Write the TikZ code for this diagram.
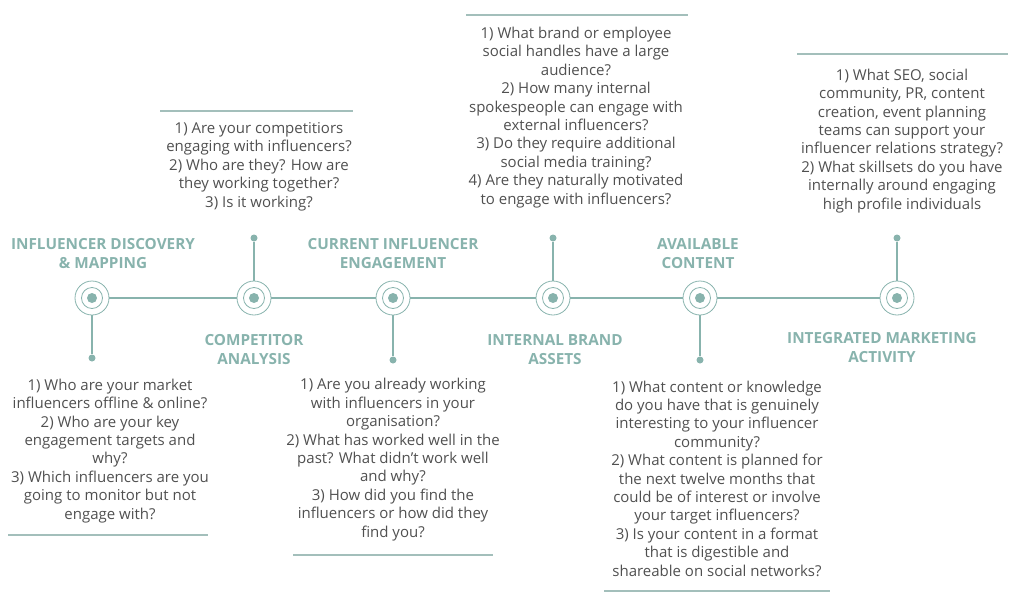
\documentclass[tikz,border=0pt]{standalone}
\usepackage{fontspec}
\setmainfont{Open Sans}
\definecolor{teal1}{HTML}{88B3AD}
\definecolor{rulec}{HTML}{A3BFBB}
\definecolor{txt}{HTML}{505050}
\begin{document}
\begin{tikzpicture}[x=1pt,y=-1pt,
  q/.style={font=\fontsize{15}{18.4}\selectfont, text=txt, align=center, inner sep=0pt, anchor=base},
  ttl/.style={font=\bfseries\fontsize{15.3}{19}\selectfont, text=teal1, align=center, inner sep=0pt, anchor=base},
  ring/.style={circle, draw=teal1, line width=0.8pt, minimum size=34pt, inner sep=0pt},
  innerring/.style={circle, draw=teal1, line width=0.8pt, minimum size=21pt, inner sep=0pt},
  core/.style={circle, fill=teal1, minimum size=10pt, inner sep=0pt},
  enddot/.style={circle, fill=teal1, minimum size=7pt, inner sep=0pt},
  link/.style={draw=teal1, line width=1.3pt},
  hr/.style={draw=rulec, line width=1.2pt}]
\useasboundingbox (0,0) rectangle (1024,605);
% timeline circles
\foreach \i/\x in {1/92,2/254,3/393,4/553,5/700,6/897}{
  \node[ring] (c\i) at (\x,298) {};
  \node[innerring] (r\i) at (\x,298) {};
  \node[core] (k\i) at (\x,298) {};
}
\foreach \a/\b in {1/2,2/3,3/4,4/5,5/6}{
  \draw[link] (c\a.east) -- (c\b.west);
}
% stems and end dots
\node[enddot] (d1) at (92,358) {};
\node[enddot] (d2) at (254,238) {};
\node[enddot] (d3) at (393,360) {};
\node[enddot] (d4) at (553,238) {};
\node[enddot] (d5) at (700,360) {};
\node[enddot] (d6) at (897,238) {};
\foreach \i in {1,...,6}{\draw[link] (c\i) -- (d\i);}
% titles (anchor = baseline of last line)
\node[ttl] (t1) at (103,268) {INFLUENCER DISCOVERY\\\& MAPPING};
\node[ttl] (t2) at (254,364) {COMPETITOR\\ANALYSIS};
\node[ttl] (t3) at (393,268) {CURRENT INFLUENCER\\ENGAGEMENT};
\node[ttl] (t4) at (555,364) {INTERNAL BRAND\\ASSETS};
\node[ttl] (t5) at (698,268) {AVAILABLE\\CONTENT};
\node[ttl] (t6) at (882,362) {INTEGRATED MARKETING\\ACTIVITY};
% question blocks (anchor = baseline of last line)
\node[q] (q1) at (110,519) {1) Who are your market\\influencers offline \& online?\\2) Who are your key\\engagement targets and\\why?\\3) Which influencers are you\\going to monitor but not\\engage with?};
\node[q] (q2) at (259,207) {1) Are your competitiors\\engaging with influencers?\\2) Who are they? How are\\they working together?\\3) Is it working?};
\node[q] (q3) at (393,537) {1) Are you already working\\with influencers in your\\organisation?\\2) What has worked well in the\\past? What didn't work well\\and why?\\3) How did you find the\\influencers or how did they\\find you?};
\node[q] (q4) at (576,204) {1) What brand or employee\\social handles have a large\\audience?\\2) How many internal\\spokespeople can engage with\\external influencers?\\3) Do they require additional\\social media training?\\4) Are they naturally motivated\\to engage with influencers?};
\node[q] (q5) at (717,576) {1) What content or knowledge\\do you have that is genuinely\\interesting to your influencer\\community?\\2) What content is planned for\\the next twelve months that\\could be of interest or involve\\your target influencers?\\3) Is your content in a format\\that is digestible and\\shareable on social networks?};
\node[q] (q6) at (902,209) {1) What SEO, social\\community, PR, content\\creation, event planning\\teams can support your\\influencer relations strategy?\\2) What skillsets do you have\\internally around engaging\\high profile individuals};
% rules
\coordinate (h1a) at (8,535); \coordinate (h1b) at (208,535);
\coordinate (h2a) at (160,111); \coordinate (h2b) at (353,111);
\coordinate (h3a) at (293,555); \coordinate (h3b) at (493,555);
\coordinate (h4a) at (466,15); \coordinate (h4b) at (688,15);
\coordinate (h5a) at (604,591); \coordinate (h5b) at (830,591);
\coordinate (h6a) at (797,54); \coordinate (h6b) at (1008,54);
\foreach \i in {1,...,6}{\draw[hr] (h\i a) -- (h\i b);}
\end{tikzpicture}
\end{document}
